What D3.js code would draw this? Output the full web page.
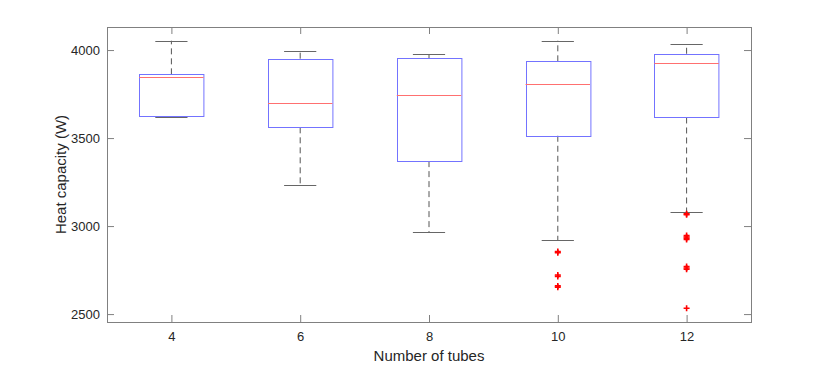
<!DOCTYPE html>
<html>
<head>
<meta charset="utf-8" />
<title>Heat capacity box plot</title>
<style>
  body { margin: 0; background: #fff; }
  svg text { font-family: "Liberation Sans", Arial, sans-serif; fill: #262626; }
</style>
</head>
<body>
<svg id="chart" width="830" height="367"></svg>
<script src="https://d3js.org/d3.v7.min.js"></script>
<script>
// boxplot statistics
const tubes = [4, 6, 8, 10, 12];
const q1 = [3623, 3561, 3369, 3513, 3617];
const median = [3845, 3699, 3743, 3807, 3924];
const q3 = [3862, 3951, 3953, 3936, 3979];
const whiskerLow = [3619, 3235, 2966, 2919, 3080];
const whiskerHigh = [4053, 3993, 3977, 4053, 4032];
const outliers = [
  [],
  [],
  [],
  [2855, 2849, 2722, 2714, 2660, 2653],
  [3070, 3065, 2946, 2938, 2931, 2924, 2770, 2762, 2755, 2533]
];
const yTicks = [2500, 3000, 3500, 4000];

const margin = { left: 107, top: 27, right: 79, bottom: 45 };
const W = 830, H = 367;
const svg = d3.select("#chart");

const x = d3.scaleLinear().domain([3, 13]).range([margin.left, W - margin.right]);
const y = d3.scaleLinear().domain([2455, 4131]).range([H - margin.bottom, margin.top]);

const boxW = x(1) - x(0);   // box is one unit wide
const capW = boxW / 2;
const data = tubes.map((t, i) => ({
  t, q1: q1[i], med: median[i], q3: q3[i], lo: whiskerLow[i], hi: whiskerHigh[i], out: outliers[i]
}));

const g = svg.append("g");

// whiskers (dashed)
g.selectAll(".whi").data(data).enter().append("line")
  .attr("x1", d => x(d.t)).attr("x2", d => x(d.t))
  .attr("y1", d => y(d.q3)).attr("y2", d => y(d.hi))
  .attr("stroke", "#555").attr("stroke-width", 1).attr("stroke-dasharray", "6,4");
g.selectAll(".wlo").data(data).enter().append("line")
  .attr("x1", d => x(d.t)).attr("x2", d => x(d.t))
  .attr("y1", d => y(d.q1)).attr("y2", d => y(d.lo))
  .attr("stroke", "#555").attr("stroke-width", 1).attr("stroke-dasharray", "6,4");

// caps
["hi", "lo"].forEach(k => {
  g.selectAll(".cap" + k).data(data).enter().append("line")
    .attr("x1", d => x(d.t) - capW / 2).attr("x2", d => x(d.t) + capW / 2)
    .attr("y1", d => Math.round(y(d[k])) + 0.5).attr("y2", d => Math.round(y(d[k])) + 0.5)
    .attr("stroke", "#666").attr("stroke-width", 1);
});

// boxes
g.selectAll(".box").data(data).enter().append("rect")
  .attr("x", d => Math.round(x(d.t) - boxW / 2) + 0.5)
  .attr("y", d => Math.round(y(d.q3)) + 0.5)
  .attr("width", boxW)
  .attr("height", d => Math.round(y(d.q1)) - Math.round(y(d.q3)))
  .attr("fill", "none").attr("stroke", "#7373ff").attr("stroke-width", 1);

// medians
g.selectAll(".med").data(data).enter().append("line")
  .attr("x1", d => x(d.t) - boxW / 2).attr("x2", d => x(d.t) + boxW / 2)
  .attr("y1", d => Math.round(y(d.med)) + 0.5).attr("y2", d => Math.round(y(d.med)) + 0.5)
  .attr("stroke", "#ff7070").attr("stroke-width", 1);

// outliers as red plus markers
const outPts = [];
data.forEach(d => d.out.forEach(v => outPts.push({ t: d.t, v })));
svg.append("g").selectAll("path").data(outPts).enter().append("path")
  .attr("d", d => {
    const cx = x(d.t), cy = y(d.v), s = 3;
    return `M${cx - s},${cy}H${cx + s}M${cx},${cy - s}V${cy + s}`;
  })
  .attr("stroke", "red").attr("stroke-width", 1.6).attr("fill", "none");

// axes, MATLAB style: box with inward ticks
const axColor = "#808080";
const x0 = margin.left, x1 = W - margin.right, y0 = H - margin.bottom, y1 = margin.top;
const fmt = d3.format("d");

const xAxis = svg.append("g").attr("transform", `translate(0,${y0})`)
  .call(d3.axisBottom(x).tickValues(tubes).tickFormat(fmt).tickSizeInner(-7).tickSizeOuter(0).tickPadding(10));
const xTop = svg.append("g").attr("transform", `translate(0,${y1})`)
  .call(d3.axisTop(x).tickValues(tubes).tickSizeInner(-7).tickSizeOuter(0).tickFormat(""));
const yAxis = svg.append("g").attr("transform", `translate(${x0},0)`)
  .call(d3.axisLeft(y).tickValues(yTicks).tickFormat(fmt).tickSizeInner(-7).tickSizeOuter(0).tickPadding(7));
const yRight = svg.append("g").attr("transform", `translate(${x1},0)`)
  .call(d3.axisRight(y).tickValues(yTicks).tickSizeInner(-7).tickSizeOuter(0).tickFormat(""));

[xAxis, xTop, yAxis, yRight].forEach(a => {
  a.selectAll(".domain").attr("stroke", axColor);
  a.selectAll(".tick line").attr("stroke", axColor);
  a.selectAll("text").attr("font-family", "Liberation Sans, Arial, sans-serif")
    .attr("font-size", 13).attr("fill", "#262626");
});
// close the box corners
svg.append("rect").attr("x", x0 + 0.5).attr("y", y1 + 0.5)
  .attr("width", x1 - x0).attr("height", y0 - y1)
  .attr("fill", "none").attr("stroke", axColor).attr("stroke-width", 1);

// axis titles
svg.append("text").attr("x", (x0 + x1) / 2).attr("y", 361)
  .attr("text-anchor", "middle").attr("font-size", 15).text("Number of tubes");
svg.append("text").attr("transform", `translate(66,${(y0 + y1) / 2}) rotate(-90)`)
  .attr("text-anchor", "middle").attr("font-size", 15).text("Heat capacity (W)");
</script>
</body>
</html>
